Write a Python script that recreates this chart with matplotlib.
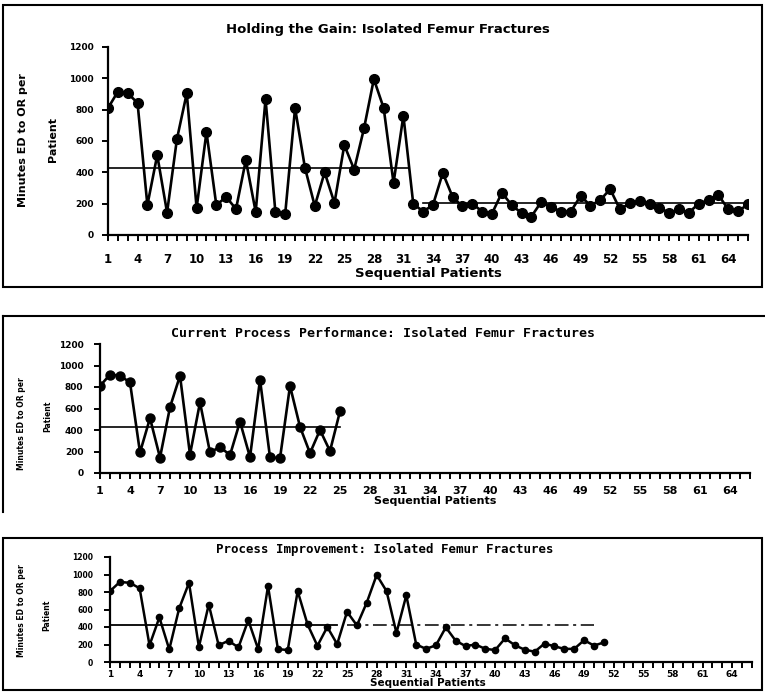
import numpy as np
import matplotlib.pyplot as plt
from matplotlib.lines import Line2D
from matplotlib.patches import Rectangle

# minutes from ED arrival to OR, one value per sequential patient
minutes = [810, 915, 905, 843, 191, 510, 143, 612, 905, 172,
           657, 191, 243, 166, 478, 147, 868, 147, 137, 810,
           430, 185, 400, 204, 574, 418, 680, 995, 810, 332,
           762, 200, 150, 191, 396, 243, 182, 200, 150, 137,
           270, 191, 140, 118, 211, 179, 150, 150, 249, 188,
           223, 293, 163, 204, 214, 198, 172, 143, 163, 143,
           201, 223, 255, 163, 153, 195]
patients = np.arange(1, len(minutes) + 1)
tick_labels = np.arange(1, 65, 3)
y_ticks = [0, 200, 400, 600, 800, 1000, 1200]

n_current = 25       # patients in "current process" chart
n_improve = 51       # patients in "process improvement" chart
old_mean = 425       # mean before the change
new_mean = 205       # mean after the change

titles = ["Holding the Gain: Isolated Femur Fractures",
          "Current Process Performance: Isolated Femur Fractures",
          "Process Improvement: Isolated Femur Fractures"]
ylabel_1 = "Minutes ED to OR per"
ylabel_2 = "Patient"
xlabel = "Sequential Patients"

W, H = 765, 693


def fx(x):
    return x / W


def fy(y):
    return 1 - y / H


def add_axes_px(fig, x0, y0, x1, y1):
    return fig.add_axes([fx(x0), fy(y1), (x1 - x0) / W, (y1 - y0) / H])


def style_axes(ax, tick_size, ytick_size, pad_x, pad_y):
    ax.set_xlim(1, 66)
    ax.set_ylim(0, 1200)
    ax.set_yticks(y_ticks)
    ax.set_yticklabels([str(v) for v in y_ticks], fontsize=ytick_size, fontweight='bold')
    ax.set_xticks(patients, minor=True)
    ax.set_xticks(tick_labels)
    ax.set_xticklabels([str(v) for v in tick_labels], fontsize=tick_size, fontweight='bold')
    ax.tick_params(axis='x', which='both', direction='out', length=4, width=1.4, pad=pad_x)
    ax.tick_params(axis='y', direction='out', length=4, width=1.4, pad=pad_y)
    for s in ['top', 'right']:
        ax.spines[s].set_visible(False)
    for s in ['left', 'bottom']:
        ax.spines[s].set_linewidth(1.6)


fig = plt.figure(figsize=(W / 100, H / 100), dpi=100)

# --- frames round the three panels ---
fig.add_artist(Rectangle((fx(3), fy(287)), fx(759), 282 / H, transform=fig.transFigure,
                         fill=False, lw=1.5, color='black'))
fig.add_artist(Line2D([fx(3), fx(765)], [fy(316), fy(316)], transform=fig.transFigure, lw=1.5, color='black'))
fig.add_artist(Line2D([fx(3), fx(3)], [fy(316), fy(512)], transform=fig.transFigure, lw=1.5, color='black'))
fig.add_artist(Rectangle((fx(3), fy(690)), fx(759), 152 / H, transform=fig.transFigure,
                         fill=False, lw=1.5, color='black'))

# --- top: holding the gain ---
ax1 = add_axes_px(fig, 108, 47, 748, 235)
ax1.plot(patients, minutes, color='black', lw=1.9, marker='o', markersize=7)
ax1.plot([1, 31.5], [old_mean, old_mean], color='black', lw=1.2)
ax1.plot([33, 66], [new_mean, new_mean], color='black', lw=1.2)
style_axes(ax1, 8.5, 6.5, 9, 6)
fig.text(fx(388), fy(30), titles[0], ha='center', va='center', fontsize=9.5, fontweight='bold')
fig.text(fx(428), fy(273), xlabel, ha='center', va='center', fontsize=9.5, fontweight='bold')
fig.text(fx(23), fy(140), ylabel_1, rotation=90, ha='center', va='center', fontsize=8, fontweight='bold')
fig.text(fx(53), fy(140), ylabel_2, rotation=90, ha='center', va='center', fontsize=8, fontweight='bold')

# --- middle: current process ---
ax2 = add_axes_px(fig, 100, 344, 750, 473)
ax2.plot(patients[:n_current], minutes[:n_current], color='black', lw=1.9, marker='o', markersize=6.5)
ax2.plot([1, n_current], [old_mean, old_mean], color='black', lw=1.2)
style_axes(ax2, 8, 6.5, 5, 8)
fig.text(fx(383), fy(333), titles[1], ha='center', va='center', fontsize=9.5,
         fontweight='bold', family='DejaVu Sans Mono')
fig.text(fx(435), fy(501), xlabel, ha='center', va='center', fontsize=8, fontweight='bold')
fig.text(fx(22), fy(424), ylabel_1, rotation=90, ha='center', va='center', fontsize=5.5, fontweight='bold')
fig.text(fx(48), fy(416), ylabel_2, rotation=90, ha='center', va='center', fontsize=5.5, fontweight='bold')

# --- bottom: process improvement ---
ax3 = add_axes_px(fig, 110, 557, 752, 662)
ax3.plot(patients[:n_improve], minutes[:n_improve], color='black', lw=1.8, marker='o', markersize=4.5)
ax3.plot([1, 24], [old_mean, old_mean], color='black', lw=1.3)
ax3.plot([25, 50], [old_mean, old_mean], color='black', lw=1.1, dashes=(9, 3, 2, 3))
style_axes(ax3, 6.5, 5.5, 2, 8)
fig.text(fx(385), fy(549), titles[2], ha='center', va='center', fontsize=9,
         fontweight='bold', family='DejaVu Sans Mono')
fig.text(fx(428), fy(683), xlabel, ha='center', va='center', fontsize=7.5, fontweight='bold')
fig.text(fx(22), fy(611), ylabel_1, rotation=90, ha='center', va='center', fontsize=5.5, fontweight='bold')
fig.text(fx(47), fy(615), ylabel_2, rotation=90, ha='center', va='center', fontsize=5.5, fontweight='bold')

fig.savefig('out.png', dpi=100)
